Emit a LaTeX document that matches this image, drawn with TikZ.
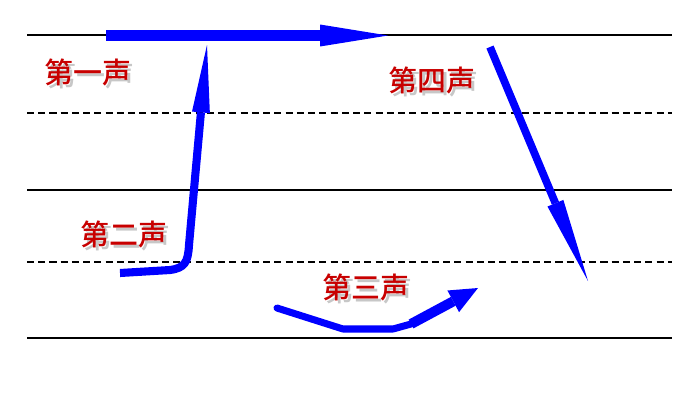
\documentclass[tikz,border=0pt]{standalone}
\usepackage{fontspec}
\newfontfamily\cjk{Noto Sans CJK SC Medium}
\usetikzlibrary{arrows.meta}

\definecolor{tonered}{RGB}{200,0,0}
\definecolor{toneblue}{RGB}{0,0,255}
\newcommand{\shadowed}[1]{\rlap{\kern1.8pt\raisebox{-1.8pt}{\textcolor{black!22}{#1}}}#1}

\begin{document}
\begin{tikzpicture}[x=0.02cm,y=-0.02cm,
    staff/.style={line width=1.4pt},
    guide/.style={line width=0.9pt,dash pattern=on 4pt off 2.4pt},
    tone/.style={draw=toneblue,line join=round},
    tonelabel/.style={text=tonered,font=\cjk\fontsize{16.5}{18}\selectfont,inner sep=0pt}]
    \useasboundingbox (0,0) rectangle (700,400);

    \draw[staff] (27,35) -- (672,35);
    \draw[guide] (27,113) -- (672,113);
    \draw[staff] (27,190) -- (672,190);
    \draw[guide] (27,262) -- (672,262);
    \draw[staff] (27,338) -- (672,338);

    \node[tonelabel] (l1) at (88,74) {\shadowed{第一声}};
    \node[tonelabel] (l2) at (124,236) {\shadowed{第二声}};
    \node[tonelabel] (l3) at (366,289) {\shadowed{第三声}};
    \node[tonelabel] (l4) at (432,82) {\shadowed{第四声}};

    \coordinate (s1) at (106,35.5);
    \coordinate (e1) at (388,35.5);
    \coordinate (s2) at (120,273);
    \coordinate (e2) at (207,45);
    \coordinate (s3) at (277,308);
    \coordinate (m3) at (411,324);
    \coordinate (e3) at (478,288);
    \coordinate (s4) at (490,47);
    \coordinate (e4) at (588,281);

    \draw[tone,line width=6.2pt,-{Triangle[length=38.6pt,width=12.5pt,line width=0pt]}] (s1) -- (e1);
    \draw[tone,line width=4.6pt,-{Triangle[length=38.5pt,width=10.2pt,line width=0pt]}]
        (s2) -- (170,270) .. controls (185,268) and (188,262) .. (189,245) -- (e2);
    \draw[tone,line width=4pt,line cap=round] (s3) -- (343,329) -- (393,329) -- (m3);
    \draw[tone,line width=5.7pt,-{Triangle[length=16pt,width=14pt,line width=0pt]}] (m3) -- (e3);
    \draw[tone,line width=4.4pt,-{Triangle[length=48pt,width=9.8pt,line width=0pt]}] (s4) -- (e4);
\end{tikzpicture}
\end{document}
